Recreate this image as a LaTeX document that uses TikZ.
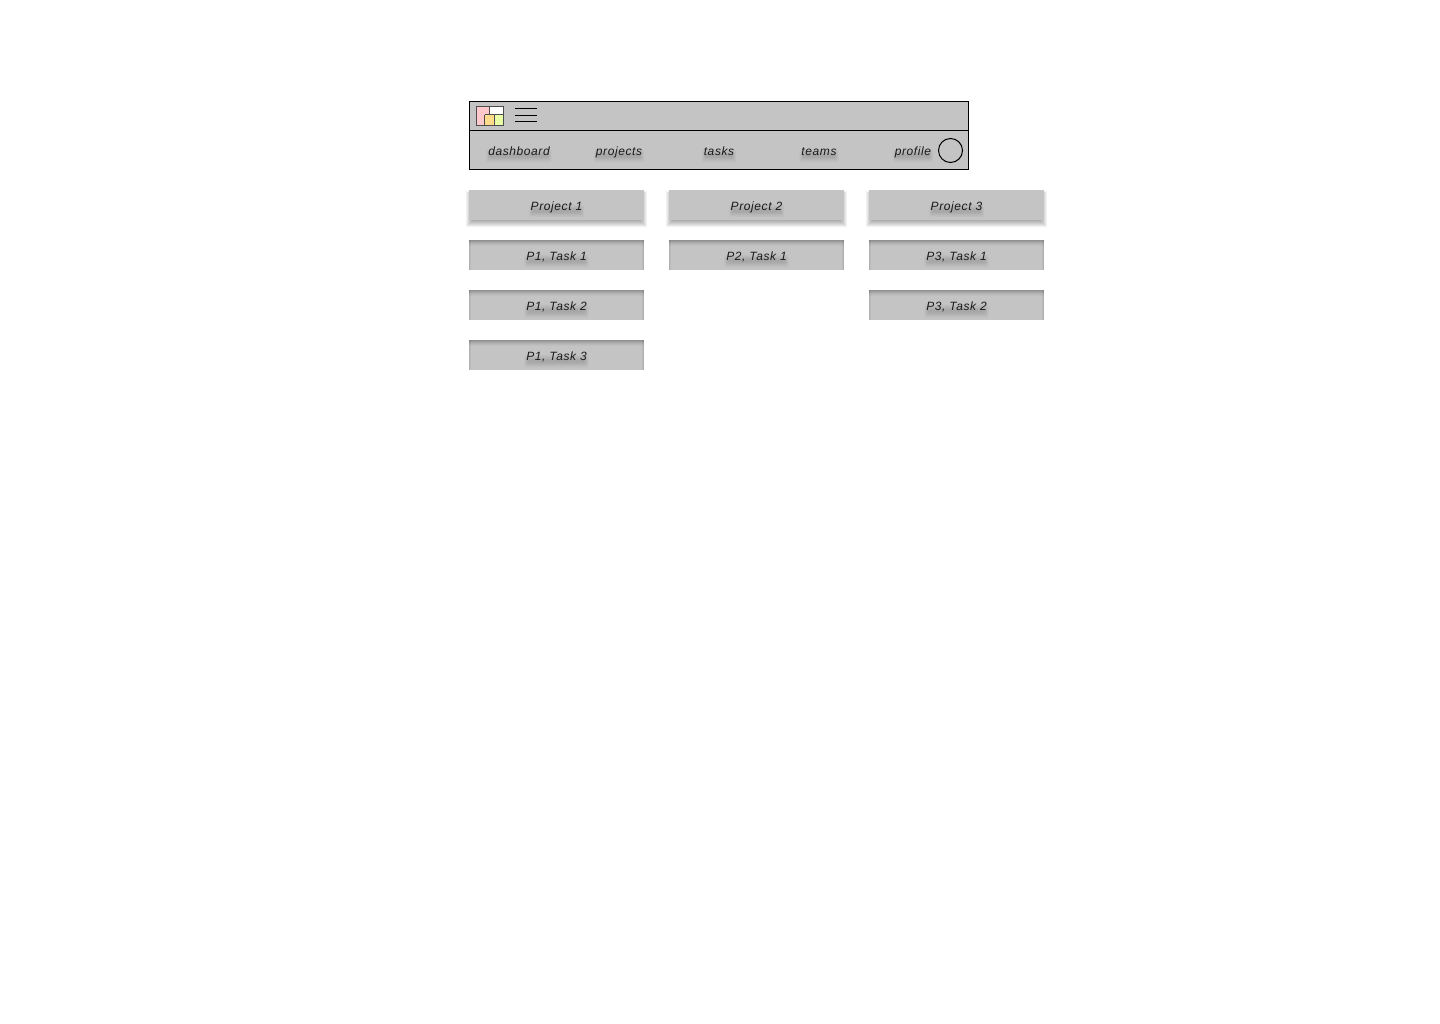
\documentclass[tikz,border=0pt]{standalone}
\usepackage{fontspec}
\setmainfont[LetterSpace=5,ItalicFont={Liberation Sans Italic}]{Liberation Sans}
\usetikzlibrary{calc}
\pgfdeclarelayer{labels}
\pgfsetlayers{main,labels}
\definecolor{panel}{HTML}{C4C4C4}
\definecolor{logopink}{HTML}{FFC9CC}
\definecolor{logoorange}{HTML}{FFDC8C}
\definecolor{logolemon}{HTML}{E8FFA8}
\tikzset{
  every node/.style={inner sep=0pt,outer sep=0pt},
  panelbox/.style={fill=panel,draw=black,line width=1pt},
  menuline/.style={draw=black,line width=1pt},
  logoline/.style={draw=black!70,line width=1pt},
  cardbox/.style={fill=panel,minimum width=175pt,minimum height=30pt,anchor=north west},
  labeltext/.style={anchor=base,text=black!90,font=\fontsize{12}{14}\selectfont\itshape},
}
% one text on the top layer, soft shadow band under it: centre x #1, baseline y #2, name #3, text #4
\newcommand{\softlabel}[4]{%
  \begin{pgfonlayer}{labels}
    \node[labeltext] (#3) at (#1,#2) {#4};
  \end{pgfonlayer}
  \foreach \g/\op in {3/.016,2/.02,1/.025,0/.028,-1/.028,-2/.022}{
    \fill[black,opacity=\op,rounded corners=2pt]
      ($(#3.base west)+(-\g*.7,-3-\g)$) rectangle ($(#3.base east)+(\g*.7,4+\g)$);
  }
}
% project card with soft drop shadow
\newcommand{\projectcard}[4]{%
  \foreach \g in {3,2,1,0,-1,-2,-3}{
    \fill[black,opacity=.05] ($(#1,194)+(-\g,-\g)$) rectangle ($(#1,224)+(175+\g,\g)$);
  }
  \node[cardbox] (#2) at (#1,190) {};
  \softlabel{#1+87.5}{210.5}{#3}{#4}
}
% task card with inner shadow along its top
\newcommand{\taskcard}[4]{%
  \node[cardbox] (#2) at (#1,#3) {};
  \foreach \g/\op in {0/.26,1/.2,2/.14,3/.09,4/.05,5/.025}{
    \fill[black,opacity=\op] (#1,#3+\g) rectangle (#1+175,#3+\g+1);
  }
  \foreach \g/\op in {0/.1,1/.05}{
    \fill[black,opacity=\op] (#1+\g,#3) rectangle (#1+\g+1,#3+30);
    \fill[black,opacity=\op] (#1+174-\g,#3) rectangle (#1+175-\g,#3+30);
  }
  \softlabel{#1+87.5}{#3+20.5}{#2t}{#4}
}
\begin{document}
\begin{tikzpicture}[x=1pt,y=-1pt]
\useasboundingbox (0,0) rectangle (1440,1024);
\fill[white] (0,0) rectangle (1440,1024);
% header
\node[panelbox,minimum width=499pt,minimum height=29pt,anchor=north west] (topbar) at (469.5,101.5) {};
\node[panelbox,minimum width=499pt,minimum height=39pt,anchor=north west] (navbar) at (469.5,130.5) {};
% logo
\fill[white] (476,106) rectangle (504,126);
\fill[logopink] (476.5,106.5) rectangle (489,125.5);
\fill[logoorange] (484.5,115) rectangle (494,125.5);
\fill[logolemon] (494,115) rectangle (503.5,125.5);
\draw[logoline] (476.5,106.5) rectangle (503.5,125.5);
\draw[logoline] (489,106.5) -- (489,115) (484.5,115) -- (503.5,115) (484.5,115) -- (484.5,125.5) (494,115) -- (494,125.5);
% menu icon
\coordinate (m1a) at (515,108.5); \coordinate (m1b) at (537,108.5);
\coordinate (m2a) at (515,115.5); \coordinate (m2b) at (537,115.5);
\coordinate (m3a) at (515,122); \coordinate (m3b) at (537,122);
\draw[menuline] (m1a)--(m1b);
\draw[menuline] (m2a)--(m2b);
\draw[menuline] (m3a)--(m3b);
% nav labels
\softlabel{519}{155.5}{ndash}{dashboard}
\softlabel{619}{155.5}{nproj}{projects}
\softlabel{719}{155.5}{ntask}{tasks}
\softlabel{819}{155.5}{nteam}{teams}
\softlabel{913}{155.5}{nprof}{profile}
\node[draw=black,line width=1pt,circle,minimum size=24pt] (avatar) at (950.5,150.5) {};
% projects
\projectcard{469}{c1}{c1t}{Project 1}
\projectcard{669}{c2}{c2t}{Project 2}
\projectcard{869}{c3}{c3t}{Project 3}
% tasks
\taskcard{469}{t11}{240}{P1, Task 1}
\taskcard{469}{t12}{290}{P1, Task 2}
\taskcard{469}{t13}{340}{P1, Task 3}
\taskcard{669}{t21}{240}{P2, Task 1}
\taskcard{869}{t31}{240}{P3, Task 1}
\taskcard{869}{t32}{290}{P3, Task 2}
\end{tikzpicture}
\end{document}
